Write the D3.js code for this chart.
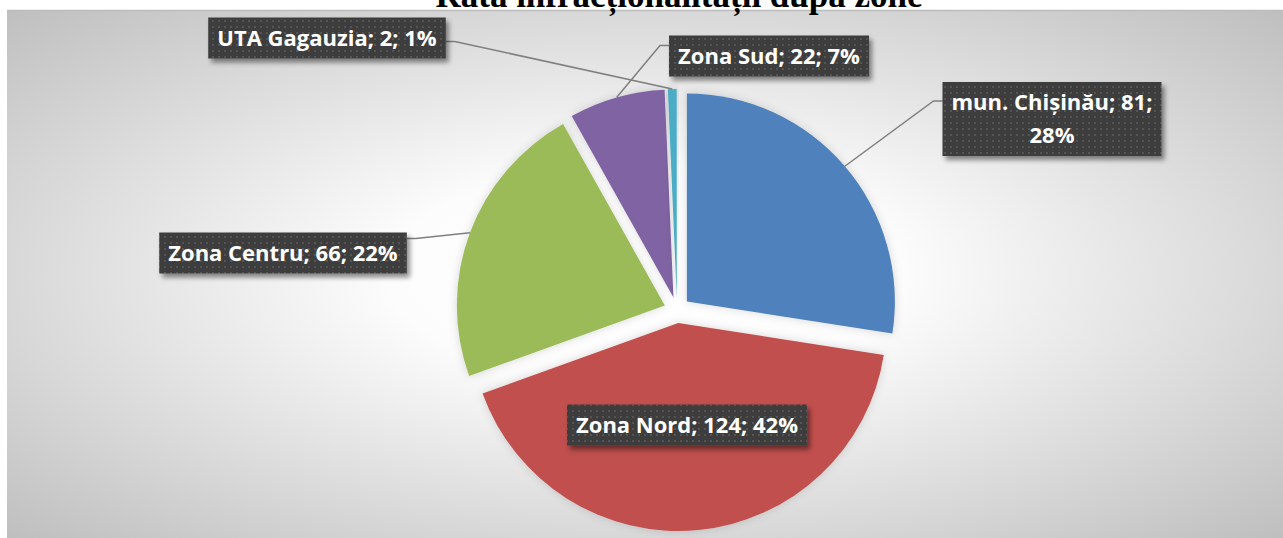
<!DOCTYPE html>
<html>
<head>
<meta charset="utf-8">
<script src="https://d3js.org/d3.v7.min.js"></script>
<style>
	body { margin: 0; background: #fff; }
	svg { display: block; }
</style>
</head>
<body>
<svg id="chart" width="1283" height="538"></svg>
<script>
// data
const title = "Rata infracționalității după zone";
const categories = ["mun. Chișinău", "Zona Nord", "Zona Centru", "Zona Sud", "UTA Gagauzia"];
const values = [81, 124, 66, 22, 2];
const percents = ["28%", "42%", "22%", "7%", "1%"];
const colors = ["#4f81bd", "#c0504d", "#9bbb59", "#8064a2", "#4bacc6"];

// where the label boxes sit, relative to the pie centre
const labelLayout = [
	{dx: 375, dy: -191, side: "left", attach: 19, wrap: true},
	{dx: 10, dy: 115, side: null},
	{dx: -394, dy: -57, side: "right", attach: 6},
	{dx: 92, dy: -254, side: "left", attach: 10},
	{dx: -350, dy: -272, side: "right", attach: 24}
];

const width = 1283, height = 538;
const plot = {x: 7, y: 10};
const cx = 677, cy = 310, radius = 208, explode = 13;

const svg = d3.select("#chart");
const defs = svg.append("defs");

// background: soft radial gradient like the Excel preset
const bg = defs.append("radialGradient").attr("id", "bgGrad")
	.attr("cx", 0.5).attr("cy", 0.5).attr("r", 0.72);
bg.append("stop").attr("offset", "0%").attr("stop-color", "#ffffff");
bg.append("stop").attr("offset", "28%").attr("stop-color", "#fcfcfc");
bg.append("stop").attr("offset", "100%").attr("stop-color", "#bdbdbd");

// dotted dark fill of the label boxes
const pat = defs.append("pattern").attr("id", "dots")
	.attr("width", 6).attr("height", 6).attr("patternUnits", "userSpaceOnUse");
pat.append("rect").attr("width", 6).attr("height", 6).attr("fill", "#3d3d3d");
pat.append("rect").attr("x", 2).attr("y", 2).attr("width", 2).attr("height", 2).attr("fill", "#545454");

const boxShadow = defs.append("filter").attr("id", "boxShadow")
	.attr("x", "-10%").attr("y", "-20%").attr("width", "130%").attr("height", "160%");
boxShadow.append("feDropShadow").attr("dx", 3).attr("dy", 4).attr("stdDeviation", 2.5)
	.attr("flood-color", "#000").attr("flood-opacity", 0.45);

const sliceShadow = defs.append("filter").attr("id", "sliceShadow")
	.attr("x", "-20%").attr("y", "-20%").attr("width", "140%").attr("height", "140%");
sliceShadow.append("feDropShadow").attr("dx", 0).attr("dy", 0).attr("stdDeviation", 4)
	.attr("flood-color", "#000").attr("flood-opacity", 0.15);

svg.append("rect")
	.attr("x", plot.x).attr("y", plot.y)
	.attr("width", width - plot.x).attr("height", height - plot.y)
	.attr("fill", "url(#bgGrad)");
svg.append("line")
	.attr("x1", plot.x).attr("x2", width).attr("y1", plot.y + 0.5).attr("y2", plot.y + 0.5)
	.attr("stroke", "#bcbcbc").attr("stroke-width", 1.5);

// title (cut by the top of the picture, as in the original)
svg.append("text")
	.attr("x", 679).attr("y", 7)
	.attr("text-anchor", "middle")
	.style("font-family", "'Liberation Serif', 'Times New Roman', serif")
	.style("font-weight", 700)
	.style("font-size", "35px")
	.attr("fill", "#000")
	.text(title);

const pie = d3.pie().sort(null).value(d => d)(values);
const arc = d3.arc().innerRadius(0).outerRadius(radius);

function offsetOf(d, r) {
	const a = (d.startAngle + d.endAngle) / 2;
	return [Math.sin(a) * r, -Math.cos(a) * r];
}

const pieG = svg.append("g").attr("transform", `translate(${cx},${cy})`);

pieG.selectAll("path")
	.data(pie)
	.enter()
	.append("path")
	.attr("transform", d => `translate(${offsetOf(d, explode)})`)
	.attr("d", arc)
	.attr("fill", (d, i) => colors[i])
	.attr("filter", "url(#sliceShadow)");

// labels
const fontFamily = "'Open Sans', Lato, sans-serif";
const fontSize = 22;
const labelG = svg.append("g");

pie.forEach((d, i) => {
	const lay = labelLayout[i];
	const full = `${categories[i]}; ${values[i]}; ${percents[i]}`;
	const lines = lay.wrap ? [`${categories[i]}; ${values[i]};`, percents[i]] : [full];
	const lineH = 33;

	const g = labelG.append("g");
	const box = g.append("rect").attr("fill", "url(#dots)").attr("filter", "url(#boxShadow)");
	const txt = g.append("text")
		.attr("text-anchor", "middle")
		.style("font-family", fontFamily)
		.style("font-weight", 700)
		.style("font-size", fontSize + "px")
		.attr("fill", "#fff");

	const bx = cx + lay.dx, by = cy + lay.dy;
	lines.forEach((l, k) => {
		txt.append("tspan")
			.attr("x", bx)
			.attr("y", by + (k - (lines.length - 1) / 2) * lineH)
			.attr("dy", "0.36em")
			.text(l);
	});

	const bb = txt.node().getBBox();
	const padX = 9, padY = 8;
	const w = bb.width + padX * 2;
	const h = lines.length * lineH + padY;
	const x0 = bx - w / 2, y0 = by - h / 2;
	box.attr("x", x0).attr("y", y0).attr("width", w).attr("height", h);

	if (lay.side) {
		const [ox, oy] = offsetOf(d, explode);
		const [px, py] = offsetOf(d, radius);
		const start = [cx + ox + px, cy + oy + py];
		const edgeX = lay.side === "left" ? x0 : x0 + w;
		const elbowX = lay.side === "left" ? edgeX - 9 : edgeX + 9;
		const ay = y0 + lay.attach;
		labelG.insert("path", ":first-child")
			.attr("d", d3.line()([start, [elbowX, ay], [edgeX, ay]]))
			.attr("fill", "none")
			.attr("stroke", "#7f7f7f")
			.attr("stroke-width", 1.5);
	}
});
</script>
</body>
</html>
